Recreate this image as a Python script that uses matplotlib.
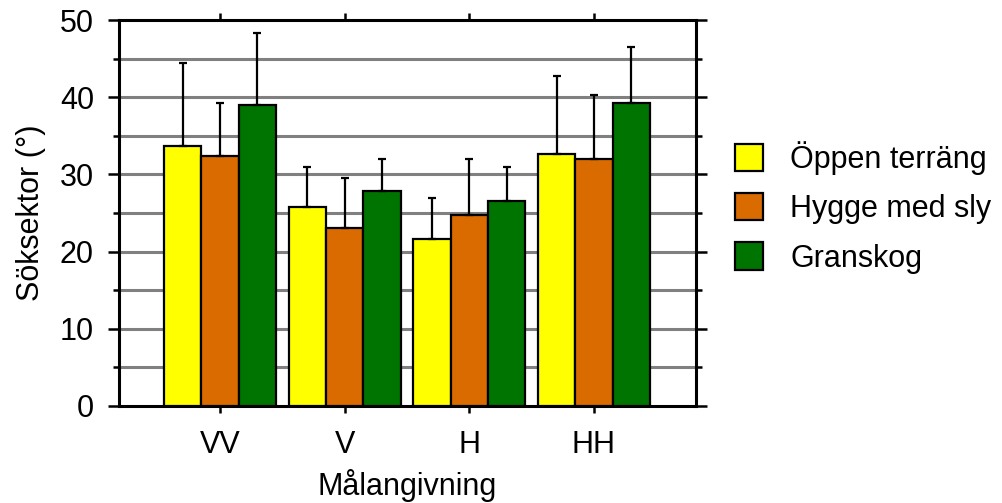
import matplotlib
matplotlib.use("Agg")
import matplotlib.pyplot as plt
from matplotlib.patches import Patch
import numpy as np

plt.rcParams['font.family'] = ['Liberation Sans', 'DejaVu Sans']

categories = ['VV', 'V', 'H', 'HH']
series = ['Öppen terräng', 'Hygge med sly', 'Granskog']
colors = ['#ffff00', '#d96b00', '#007400']

oppen = [33.7, 25.8, 21.6, 32.7]
hygge = [32.4, 23.0, 24.7, 32.0]
gran = [39.0, 27.9, 26.5, 39.2]

oppen_err = [10.8, 5.2, 5.3, 10.0]
hygge_err = [6.8, 6.6, 7.3, 8.3]
gran_err = [9.3, 4.1, 4.5, 7.3]

values = [oppen, hygge, gran]
errors = [oppen_err, hygge_err, gran_err]

fig = plt.figure(figsize=(10.03, 5.03), dpi=100)
ax = fig.add_axes([0.1186, 0.193, 0.5755, 0.767])

x = np.arange(len(categories))
w = 0.3
for i in range(3):
    ax.bar(x + (i - 1) * w, values[i], w, color=colors[i], edgecolor='black',
           linewidth=1.6, zorder=3,
           yerr=[np.zeros(4), errors[i]], capsize=3,
           error_kw=dict(elinewidth=1.6, capthick=1.6, ecolor='black', zorder=4))

ax.set_ylim(0, 50)
ax.set_xlim(-0.81, 3.82)
ax.set_yticks([0, 10, 20, 30, 40, 50])
ax.set_yticks(np.arange(5, 50, 10), minor=True)
ax.set_xticks(x)
ax.set_xticklabels(categories)

for yv in np.arange(5, 50, 5):
    ax.axhline(yv, color='#808080', linewidth=2.2, zorder=1)

for s in ax.spines.values():
    s.set_linewidth(2.2)

ax.tick_params(axis='both', which='major', direction='out', width=1.8,
               labelsize=22, top=True, right=True)
ax.tick_params(axis='y', which='major', length=8, pad=10)
ax.tick_params(axis='y', which='minor', direction='out', length=4.5, width=1.8,
               right=True)
ax.tick_params(axis='x', which='major', length=5, pad=12)

ax.set_xlabel('Målangivning', fontsize=22, labelpad=7)
ax.set_ylabel('Söksektor (°)', fontsize=22, labelpad=10)

handles = [Patch(facecolor=c, edgecolor='black', linewidth=1.6) for c in colors]
fig.legend(handles, series, loc='center left', bbox_to_anchor=(0.733, 0.588),
           frameon=False, fontsize=22, handlelength=0.9, handleheight=1.0,
           handletextpad=0.9, labelspacing=0.6, borderpad=0, borderaxespad=0)

fig.savefig('out.png', dpi=100)
